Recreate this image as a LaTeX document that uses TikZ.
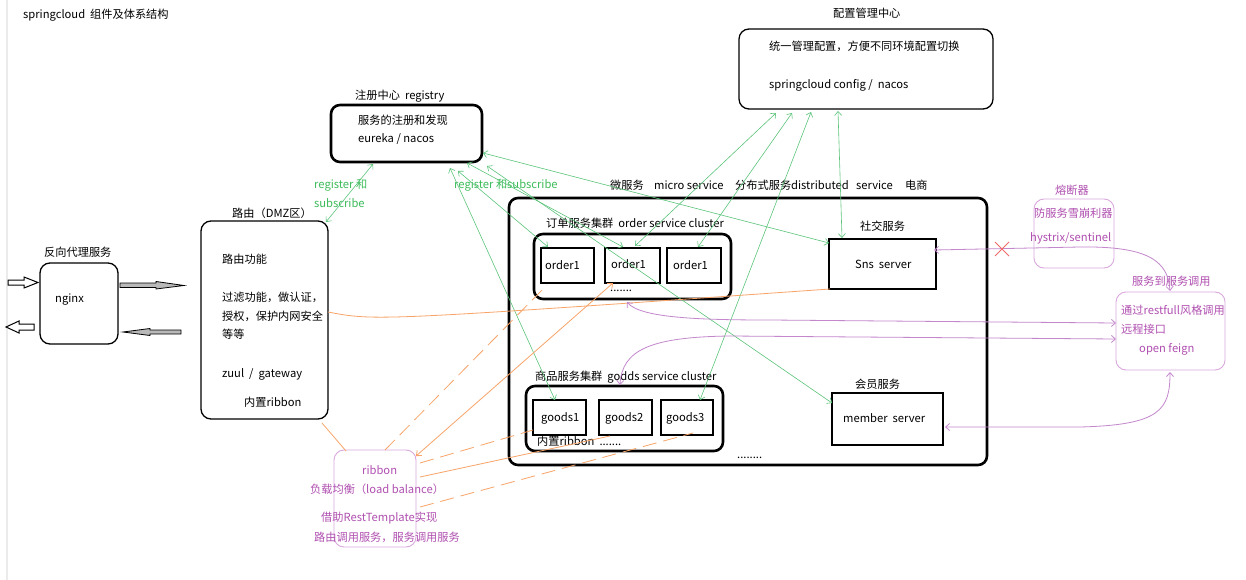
\documentclass[tikz,border=0pt]{standalone}
\usepackage{fontspec}
\setmainfont{Noto Sans CJK SC}
\usetikzlibrary{arrows.meta}
\definecolor{gcol}{HTML}{5CC47A}
\definecolor{gtext}{HTML}{3DBB5A}
\definecolor{ptext}{HTML}{B050B0}
\definecolor{pline}{HTML}{C487CC}
\definecolor{pbord}{HTML}{D9A9DD}
\definecolor{ocol}{HTML}{F8A468}
\definecolor{xred}{HTML}{F06A6A}
\begin{document}
\begin{tikzpicture}[x=1pt,y=-1pt,
  every node/.style={font=\fontsize{11.2}{13}\selectfont},
  txt/.style={anchor=west,inner sep=0,text=black},
  gtx/.style={anchor=west,inner sep=0,text=gtext},
  ptx/.style={anchor=west,inner sep=0,text=ptext},
  thickbox/.style={draw,line width=2.6pt,rounded corners=9pt,inner sep=0},
  sqbox/.style={draw,line width=2.6pt,inner sep=0},
  thinbox/.style={draw,line width=1.3pt,rounded corners=10pt,inner sep=0},
  pbox/.style={draw=pbord,line width=0.9pt,rounded corners=10pt,inner sep=0},
  gl/.style={draw=gcol,line width=0.6pt,{Straight Barb[length=4pt,width=7pt]}-{Straight Barb[length=4pt,width=7pt]}},
  ol/.style={draw=ocol,line width=0.8pt},
  odash/.style={ol,dash pattern=on 14pt off 7pt},
  pl/.style={draw=pline,line width=0.8pt,{Straight Barb[length=4pt,width=7pt]}-{Straight Barb[length=4pt,width=7pt]}},
  blk/.style={draw=black,line width=0.8pt,fill=gray!55},
  hol/.style={draw=black,line width=1pt,fill=white}
]
\useasboundingbox (0,0) rectangle (1246,580);
\fill[white] (0,0) rectangle (1246,580);
\draw[black!8,line width=1.2pt] (7,0) -- (7,580);

% title
\node[txt] (title) at (23,15) {springcloud\ \ 组件及体系结构};

% config centre
\node[txt] (cfgl) at (833,13) {配置管理中心};
\node[thinbox,minimum width=254pt,minimum height=80pt] (cfg) at (866,69) {};
\node[txt] (cfg1) at (769,46) {统一管理配置，方便不同环境配置切换};
\node[txt] (cfg2) at (769,85) {springcloud config /\ \ nacos};

% registry
\node[txt] (regl) at (355,96) {注册中心\ \ registry};
\node[thickbox,minimum width=151pt,minimum height=57pt] (reg) at (406.5,133.5) {};
\node[txt] (reg1) at (358,120) {服务的注册和发现};
\node[txt] (reg2) at (358,139) {eureka / nacos};

% nginx
\node[txt] (ngl) at (44,252) {反向代理服务};
\node[thinbox,minimum width=78pt,minimum height=81pt] (ngx) at (79,303.5) {};
\node[txt] (ngt) at (55,300) {nginx};

% block arrows
\draw[hol] (8,280) -- (24,280) -- (24,277) -- (38,282.5) -- (24,288) -- (24,285) -- (8,285) -- cycle;
\draw[hol] (34,324) -- (19,324) -- (19,321) -- (6,327) -- (19,333) -- (19,330) -- (34,330) -- cycle;
\draw[blk] (120,283) -- (156,283) -- (156,281.5) -- (184,285.5) -- (156,289) -- (156,287.5) -- (120,287.5) -- cycle;
\draw[blk] (181,330) -- (150,330) -- (150,328.5) -- (123,332) -- (150,335.5) -- (150,334) -- (181,334) -- cycle;

% gateway
\node[txt] (gwl) at (232,213) {路由（DMZ区）};
\node[thinbox,minimum width=127pt,minimum height=198pt] (gw) at (264.5,320) {};
\node[txt] (gw1) at (222,259) {路由功能};
\node[txt] (gw2) at (222,297) {过滤功能，做认证，};
\node[txt] (gw3) at (222,316) {授权，保护内网安全};
\node[txt] (gw4) at (222,334) {等等};
\node[txt] (gw5) at (222,374) {zuul\ \ /\ \ gateway};
\node[txt] (gw6) at (244,402) {内置ribbon};

% green labels
\node[gtx] (rs1) at (314,185) {register 和};
\node[gtx] (rs2) at (314,203) {subscribe};
\node[gtx] (rs3) at (454,185) {register 和subscribe};

% micro service
\node[txt] (ms1) at (610,185) {微服务};
\node[txt] (ms2) at (654,185) {micro service};
\node[txt] (ms3) at (735,185) {分布式服务distributed};
\node[txt] (ms4) at (856,185) {service};
\node[txt] (ms5) at (905,185) {电商};
\node[thickbox,minimum width=478pt,minimum height=267pt] (ms) at (748,331.5) {};

% order cluster
\node[txt] (ocl) at (546,223) {订单服务集群\ \ order service cluster};
\node[thickbox,minimum width=197pt,minimum height=65pt] (oc) at (632.5,266.5) {};
\node[sqbox,minimum width=53pt,minimum height=35pt] (o1) at (567.5,265.5) {};
\node[sqbox,minimum width=55pt,minimum height=35pt] (o2) at (632.5,265.5) {};
\node[sqbox,minimum width=54pt,minimum height=35pt] (o3) at (694,265.5) {};
\node[txt] (o1t) at (545,265) {order1};
\node[txt] (o2t) at (611,264) {order1};
\node[txt] (o3t) at (673,265) {order1};
\node[txt] (odots) at (610,291) {.......};

% goods cluster
\node[txt] (gcl) at (535,377) {商品服务集群\ \ godds service cluster};
\node[thickbox,minimum width=197pt,minimum height=65pt] (gc) at (624.5,418.5) {};
\node[sqbox,minimum width=53pt,minimum height=35pt] (g1) at (559.5,417.5) {};
\node[sqbox,minimum width=53pt,minimum height=35pt] (g2) at (625.5,417.5) {};
\node[sqbox,minimum width=52pt,minimum height=35pt] (g3) at (687,417.5) {};
\node[txt] (g1t) at (541,418) {goods1};
\node[txt] (g2t) at (605,418) {goods2};
\node[txt] (g3t) at (666,418) {goods3};
\node[txt] (gdots) at (537,441) {内置ribbon\ \ .......};
\node[txt] (mdots) at (737,458) {........};

% sns / member
\node[txt] (snsl) at (860,226) {社交服务};
\node[sqbox,minimum width=107pt,minimum height=50pt] (sns) at (882.5,264) {};
\node[txt] (snst) at (855,264) {Sns\ \ server};
\node[txt] (meml) at (855,384) {会员服务};
\node[sqbox,minimum width=111pt,minimum height=52pt] (mem) at (887.5,419) {};
\node[txt] (memt) at (843,418) {member\ \ server};

% hystrix
\node[ptx] (hyl) at (1055,190) {熔断器};
\node[pbox,minimum width=80pt,minimum height=69pt] (hys) at (1074,233.5) {};
\node[ptx] (hy1) at (1034,213) {防服务雪崩利器};
\node[ptx] (hy2) at (1030,238) {hystrix/sentinel};

% feign
\node[ptx] (fgl) at (1132,281) {服务到服务调用};
\node[pbox,minimum width=109pt,minimum height=78pt] (fg) at (1170.5,331) {};
\node[ptx] (fg1) at (1121,310) {通过restfull风格调用};
\node[ptx] (fg2) at (1121,329) {远程接口};
\node[ptx] (fg3) at (1139,349) {open feign};

% ribbon
\node[pbox,minimum width=82pt,minimum height=97pt] (rib) at (375,498.5) {};
\node[ptx] (rb1) at (362,470) {ribbon};
\node[ptx] (rb2) at (310,489) {负载均衡（load balance）};
\node[ptx] (rb3) at (321,518) {借助RestTemplate实现};
\node[ptx] (rb4) at (314,537) {路由调用服务，服务调用服务};

% connector end points
\coordinate (gwA) at (326,222);  \coordinate (regA) at (373,164);
\coordinate (regB) at (450,168); \coordinate (g1A) at (555,400);
\coordinate (regC) at (458,171); \coordinate (o1A) at (548,247);
\coordinate (regD) at (467,163); \coordinate (o2A) at (623,247);
\coordinate (regE) at (487,166); \coordinate (memA) at (832,403);
\coordinate (regF) at (483,153); \coordinate (snsA) at (829,243);
\coordinate (cfgA) at (776,113); \coordinate (o2B) at (635,246);
\coordinate (cfgB) at (792,113); \coordinate (o3A) at (698,247);
\coordinate (cfgC) at (811,112); \coordinate (g3A) at (700,400);
\coordinate (cfgD) at (838,111); \coordinate (snsB) at (842,238);

% green connectors
\draw[gl] (gwA) -- (regA);
\draw[gl] (regB) -- (g1A);
\draw[gl] (regC) -- (o1A);
\draw[gl] (regD) -- (o2A);
\draw[gl] (regE) -- (memA);
\draw[gl] (regF) -- (snsA);
\draw[gl] (cfgA) -- (o2B);
\draw[gl] (cfgB) -- (o3A);
\draw[gl] (cfgC) -- (g3A);
\draw[gl] (cfgD) -- (snsB);

% orange connectors
\coordinate (gwR) at (328,312); \coordinate (snsO) at (830,289);
\coordinate (gwB) at (322,423); \coordinate (ribA) at (346,451);
\coordinate (ribB) at (385,450); \coordinate (o1B) at (547,285);
\coordinate (ribC) at (416,456); \coordinate (o2C) at (613,283);
\coordinate (ribD) at (420,463); \coordinate (g1B) at (533,430);
\coordinate (ribE) at (420,477); \coordinate (g2B) at (610,436);
\coordinate (ribF) at (420,507); \coordinate (g3B) at (693,433);
\draw[ol] (gwR) .. controls (375,321) .. (snsO);
\draw[ol] (gwB) -- (ribA);
\draw[odash] (ribB) -- (o1B);
\draw[ol,{Straight Barb[length=4pt,width=7pt]}-{Straight Barb[length=4pt,width=7pt]}] (ribC) -- (o2C);
\draw[odash] (ribD) -- (g1B);
\draw[ol] (ribE) -- (g2B);
\draw[odash] (ribF) -- (g3B);

% purple connectors
\coordinate (snsP) at (934,250); \coordinate (fgT) at (1170,291);
\coordinate (ocP) at (627,302);  \coordinate (fgL1) at (1116,323);
\coordinate (gcP) at (620,385);  \coordinate (fgL2) at (1116,339);
\coordinate (memP) at (945,427); \coordinate (fgB) at (1170,372);
\draw[pl] (snsP) -- (1080,247) .. controls (1150,246) and (1168,262) .. (fgT);
\draw[pl] (ocP) .. controls (640,318) and (700,320) .. (770,320) -- (fgL1);
\draw[pl] (gcP) .. controls (622,350) and (650,337) .. (730,336) -- (fgL2);
\draw[pl] (memP) -- (1080,427) .. controls (1160,425) and (1170,410) .. (fgB);

% red cross
\draw[xred,line width=0.8pt] (995,242) -- (1009,256) (995,256) -- (1009,242);
\end{tikzpicture}
\end{document}
